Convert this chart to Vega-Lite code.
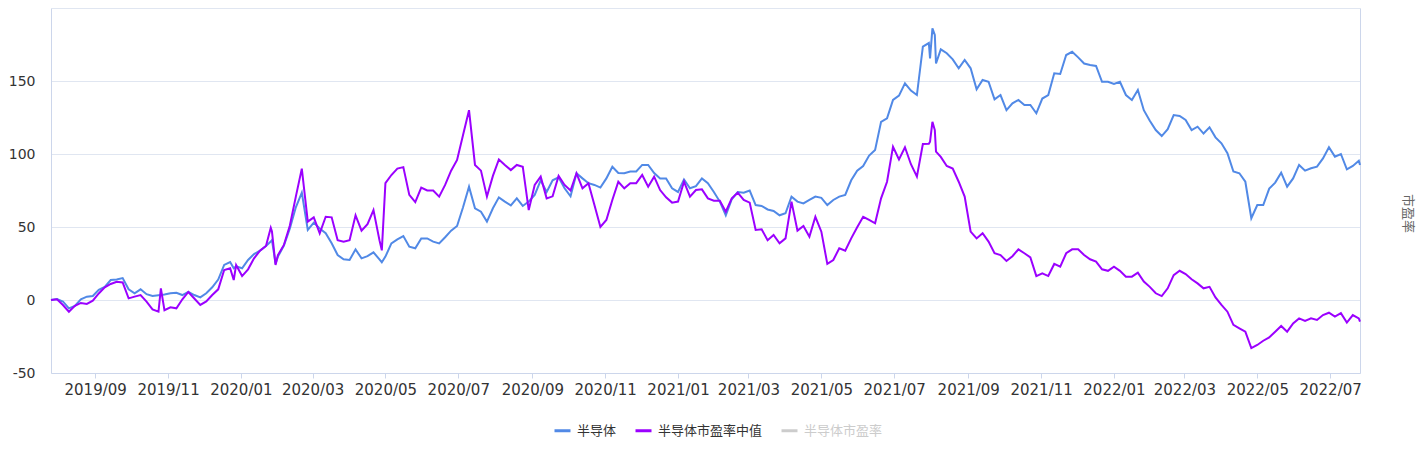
{
 "$schema": "https://vega.github.io/schema/vega-lite/v6.json",
 "width": 1309,
 "height": 365,
 "autosize": {"type": "none"},
 "padding": {"left": 51, "top": 8, "right": 67, "bottom": 77},
 "background": "white",
 "config": {"view": {"stroke": null}, "font": "DejaVu Sans"},
 "data": {"values": [
  {"date":"2019-07-26","半导体":0,"半导体市盈率中值":0},
  {"date":"2019-07-31","半导体":0.7,"半导体市盈率中值":0.5},
  {"date":"2019-08-05","半导体":-1,"半导体市盈率中值":-3.4},
  {"date":"2019-08-10","半导体":-5.7,"半导体市盈率中值":-8},
  {"date":"2019-08-15","半导体":-4,"半导体市盈率中值":-4},
  {"date":"2019-08-20","半导体":0.5,"半导体市盈率中值":-2},
  {"date":"2019-08-25","半导体":2.3,"半导体市盈率中值":-2.7},
  {"date":"2019-08-30","半导体":2.7,"半导体市盈率中值":-0.5},
  {"date":"2019-09-04","半导体":7,"半导体市盈率中值":4.5},
  {"date":"2019-09-09","半导体":9,"半导体市盈率中值":8.7},
  {"date":"2019-09-14","半导体":13.7,"半导体市盈率中值":11},
  {"date":"2019-09-19","半导体":14,"半导体市盈率中值":12.5},
  {"date":"2019-09-24","半导体":15,"半导体市盈率中值":12},
  {"date":"2019-09-29","半导体":7.3,"半导体市盈率中值":1.1},
  {"date":"2019-10-04","半导体":4.6,"半导体市盈率中值":2.3},
  {"date":"2019-10-09","半导体":7.3,"半导体市盈率中值":3.4},
  {"date":"2019-10-14","半导体":4,"半导体市盈率中值":-1.1},
  {"date":"2019-10-19","半导体":2.7,"半导体市盈率中值":-6.4},
  {"date":"2019-10-24","半导体":3.2,"半导体市盈率中值":-8},
  {"date":"2019-10-26","半导体":3.4,"半导体市盈率中值":8},
  {"date":"2019-10-29","半导体":3.7,"半导体市盈率中值":-7},
  {"date":"2019-11-03","半导体":4.6,"半导体市盈率中值":-5},
  {"date":"2019-11-08","半导体":5,"半导体市盈率中值":-5.7},
  {"date":"2019-11-13","半导体":3.4,"半导体市盈率中值":0.5},
  {"date":"2019-11-18","半导体":5.5,"半导体市盈率中值":5.5},
  {"date":"2019-11-23","半导体":3.4,"半导体市盈率中值":1},
  {"date":"2019-11-28","半导体":1.8,"半导体市盈率中值":-3.4},
  {"date":"2019-12-03","半导体":4.6,"半导体市盈率中值":-1},
  {"date":"2019-12-08","半导体":8.7,"半导体市盈率中值":3.4},
  {"date":"2019-12-13","半导体":14,"半导体市盈率中值":7.3},
  {"date":"2019-12-18","半导体":24,"半导体市盈率中值":20.5},
  {"date":"2019-12-23","半导体":26,"半导体市盈率中值":21.7},
  {"date":"2019-12-26","半导体":21.7,"半导体市盈率中值":13.7},
  {"date":"2019-12-28","半导体":23,"半导体市盈率中值":24},
  {"date":"2020-01-02","半导体":21.7,"半导体市盈率中值":16.4},
  {"date":"2020-01-07","半导体":27.4,"半导体市盈率中值":21},
  {"date":"2020-01-12","半导体":31.5,"半导体市盈率中值":28.5},
  {"date":"2020-01-17","半导体":33.8,"半导体市盈率中值":33.8},
  {"date":"2020-01-22","半导体":37,"半导体市盈率中值":37},
  {"date":"2020-01-26","半导体":40,"半导体市盈率中值":49.5},
  {"date":"2020-01-27","半导体":41,"半导体市盈率中值":47},
  {"date":"2020-01-30","半导体":25,"半导体市盈率中值":24},
  {"date":"2020-02-01","半导体":29.7,"半导体市盈率中值":30.8},
  {"date":"2020-02-06","半导体":37.2,"半导体市盈率中值":37.7},
  {"date":"2020-02-11","半导体":49,"半导体市盈率中值":51},
  {"date":"2020-02-16","半导体":63.5,"半导体市盈率中值":70.8},
  {"date":"2020-02-21","半导体":73.5,"半导体市盈率中值":90},
  {"date":"2020-02-26","半导体":48,"半导体市盈率中值":53.7},
  {"date":"2020-03-02","半导体":53,"半导体市盈率中值":56.6},
  {"date":"2020-03-07","半导体":49,"半导体市盈率中值":45.7},
  {"date":"2020-03-12","半导体":45.7,"半导体市盈率中值":57},
  {"date":"2020-03-17","半导体":38.8,"半导体市盈率中值":56.6},
  {"date":"2020-03-22","半导体":30.8,"半导体市盈率中值":41},
  {"date":"2020-03-27","半导体":27.9,"半导体市盈率中值":40},
  {"date":"2020-04-01","半导体":27.4,"半导体市盈率中值":41},
  {"date":"2020-04-06","半导体":34.7,"半导体市盈率中值":58},
  {"date":"2020-04-11","半导体":28.5,"半导体市盈率中值":47.5},
  {"date":"2020-04-16","半导体":30,"半导体市盈率中值":52},
  {"date":"2020-04-21","半导体":32.6,"半导体市盈率中值":61.6},
  {"date":"2020-04-26","半导体":27.9,"半导体市盈率中值":41},
  {"date":"2020-04-28","半导体":25.8,"半导体市盈率中值":34},
  {"date":"2020-05-01","半导体":29.7,"半导体市盈率中值":80},
  {"date":"2020-05-06","半导体":38.8,"半导体市盈率中值":85.6},
  {"date":"2020-05-11","半导体":41.5,"半导体市盈率中值":90},
  {"date":"2020-05-16","半导体":43.8,"半导体市盈率中值":91},
  {"date":"2020-05-21","半导体":36.5,"半导体市盈率中值":72},
  {"date":"2020-05-26","半导体":35.4,"半导体市盈率中值":67},
  {"date":"2020-05-31","半导体":42.2,"半导体市盈率中值":77},
  {"date":"2020-06-05","半导体":42.2,"半导体市盈率中值":75},
  {"date":"2020-06-10","半导体":40,"半导体市盈率中值":75},
  {"date":"2020-06-15","半导体":38.8,"半导体市盈率中值":70.8},
  {"date":"2020-06-20","半导体":43,"半导体市盈率中值":78.8},
  {"date":"2020-06-25","半导体":47.5,"半导体市盈率中值":88.6},
  {"date":"2020-06-30","半导体":50.7,"半导体市盈率中值":95.9},
  {"date":"2020-07-05","半导体":63.5,"半导体市盈率中值":113},
  {"date":"2020-07-10","半导体":77.6,"半导体市盈率中值":130},
  {"date":"2020-07-15","半导体":62.8,"半导体市盈率中值":92.5},
  {"date":"2020-07-20","半导体":60.5,"半导体市盈率中值":88.6},
  {"date":"2020-07-25","半导体":53.7,"半导体市盈率中值":70.8},
  {"date":"2020-07-30","半导体":62.8,"半导体市盈率中值":85},
  {"date":"2020-08-04","半导体":70.3,"半导体市盈率中值":96.3},
  {"date":"2020-08-09","半导体":67.4,"半导体市盈率中值":92.5},
  {"date":"2020-08-14","半导体":64.8,"半导体市盈率中值":89},
  {"date":"2020-08-19","半导体":69.6,"半导体市盈率中值":92.5},
  {"date":"2020-08-24","半导体":64.4,"半导体市盈率中值":91.3},
  {"date":"2020-08-29","半导体":67.4,"半导体市盈率中值":61.6},
  {"date":"2020-09-03","半导体":72,"半导体市盈率中值":78.8},
  {"date":"2020-09-08","半导体":82,"半导体市盈率中值":84.5},
  {"date":"2020-09-13","半导体":74,"半导体市盈率中值":69.6},
  {"date":"2020-09-18","半导体":82,"半导体市盈率中值":71},
  {"date":"2020-09-23","半导体":84,"半导体市盈率中值":85},
  {"date":"2020-09-28","半导体":76.5,"半导体市盈率中值":78.8},
  {"date":"2020-10-03","半导体":71,"半导体市盈率中值":75},
  {"date":"2020-10-08","半导体":86.8,"半导体市盈率中值":86.8},
  {"date":"2020-10-13","半导体":83.3,"半导体市盈率中值":76.5},
  {"date":"2020-10-18","半导体":80,"半导体市盈率中值":80},
  {"date":"2020-10-23","半导体":78.8,"半导体市盈率中值":65},
  {"date":"2020-10-28","半导体":77,"半导体市盈率中值":50},
  {"date":"2020-11-02","半导体":83.3,"半导体市盈率中值":54.8},
  {"date":"2020-11-07","半导体":91.3,"半导体市盈率中值":68.5},
  {"date":"2020-11-12","半导体":87,"半导体市盈率中值":81},
  {"date":"2020-11-17","半导体":86.8,"半导体市盈率中值":76.5},
  {"date":"2020-11-22","半导体":88,"半导体市盈率中值":80},
  {"date":"2020-11-27","半导体":88,"半导体市盈率中值":80},
  {"date":"2020-12-02","半导体":92.5,"半导体市盈率中值":85.6},
  {"date":"2020-12-07","半导体":92.5,"半导体市盈率中值":77.6},
  {"date":"2020-12-12","半导体":87,"半导体市盈率中值":84.5},
  {"date":"2020-12-17","半导体":83.3,"半导体市盈率中值":75.3},
  {"date":"2020-12-22","半导体":83.3,"半导体市盈率中值":70.3},
  {"date":"2020-12-27","半导体":76.5,"半导体市盈率中值":66.7},
  {"date":"2021-01-01","半导体":74,"半导体市盈率中值":67.4},
  {"date":"2021-01-06","半导体":82.6,"半导体市盈率中值":81},
  {"date":"2021-01-11","半导体":76.5,"半导体市盈率中值":70.8},
  {"date":"2021-01-16","半导体":78,"半导体市盈率中值":75.3},
  {"date":"2021-01-21","半导体":83.3,"半导体市盈率中值":75.8},
  {"date":"2021-01-26","半导体":80,"半导体市盈率中值":69.6},
  {"date":"2021-01-31","半导体":74,"半导体市盈率中值":68},
  {"date":"2021-02-05","半导体":67.4,"半导体市盈率中值":68},
  {"date":"2021-02-10","半导体":58,"半导体市盈率中值":60.5},
  {"date":"2021-02-15","半导体":69,"半导体市盈率中值":69.6},
  {"date":"2021-02-20","半导体":74,"半导体市盈率中值":73.5},
  {"date":"2021-02-25","半导体":73.5,"半导体市盈率中值":68.5},
  {"date":"2021-03-02","半导体":75,"半导体市盈率中值":66.7},
  {"date":"2021-03-07","半导体":65,"半导体市盈率中值":48},
  {"date":"2021-03-12","半导体":64.4,"半导体市盈率中值":48.4},
  {"date":"2021-03-17","半导体":62,"半导体市盈率中值":41},
  {"date":"2021-03-22","半导体":61,"半导体市盈率中值":44.5},
  {"date":"2021-03-27","半导体":58,"半导体市盈率中值":38.8},
  {"date":"2021-04-01","半导体":59.4,"半导体市盈率中值":42.2},
  {"date":"2021-04-06","半导体":70.8,"半导体市盈率中值":67.4},
  {"date":"2021-04-11","半导体":67.4,"半导体市盈率中值":47.5},
  {"date":"2021-04-16","半导体":66.2,"半导体市盈率中值":50.7},
  {"date":"2021-04-21","半导体":68.5,"半导体市盈率中值":43.4},
  {"date":"2021-04-26","半导体":70.8,"半导体市盈率中值":57},
  {"date":"2021-05-01","半导体":70,"半导体市盈率中值":46.8},
  {"date":"2021-05-06","半导体":65,"半导体市盈率中值":24.7},
  {"date":"2021-05-11","半导体":68.5,"半导体市盈率中值":27.4},
  {"date":"2021-05-16","半导体":70.8,"半导体市盈率中值":35.4},
  {"date":"2021-05-21","半导体":72,"半导体市盈率中值":33.8},
  {"date":"2021-05-26","半导体":82,"半导体市盈率中值":42.2},
  {"date":"2021-05-31","半导体":88.6,"半导体市盈率中值":49.8},
  {"date":"2021-06-05","半导体":91.8,"半导体市盈率中值":57},
  {"date":"2021-06-10","半导体":98.9,"半导体市盈率中值":54.8},
  {"date":"2021-06-15","半导体":102.7,"半导体市盈率中值":52.5},
  {"date":"2021-06-20","半导体":122,"半导体市盈率中值":69.6},
  {"date":"2021-06-25","半导体":124.4,"半导体市盈率中值":81},
  {"date":"2021-06-30","半导体":137,"半导体市盈率中值":105},
  {"date":"2021-07-05","半导体":140,"半导体市盈率中值":96.3},
  {"date":"2021-07-10","半导体":148.4,"半导体市盈率中值":104.6},
  {"date":"2021-07-15","半导体":143.4,"半导体市盈率中值":93},
  {"date":"2021-07-20","半导体":140.4,"半导体市盈率中值":84.5},
  {"date":"2021-07-25","半导体":173.5,"半导体市盈率中值":106.8},
  {"date":"2021-07-30","半导体":176,"半导体市盈率中值":107},
  {"date":"2021-07-31","半导体":165.5,"半导体市盈率中值":108.4},
  {"date":"2021-08-02","半导体":186,"半导体市盈率中值":122},
  {"date":"2021-08-04","半导体":181.5,"半导体市盈率中值":116.4},
  {"date":"2021-08-05","半导体":162,"半导体市盈率中值":101.6},
  {"date":"2021-08-09","半导体":171.7,"半导体市盈率中值":98},
  {"date":"2021-08-14","半导体":169,"半导体市盈率中值":91.8},
  {"date":"2021-08-19","半导体":164.8,"半导体市盈率中值":90},
  {"date":"2021-08-24","半导体":158.7,"半导体市盈率中值":81},
  {"date":"2021-08-29","半导体":164.4,"半导体市盈率中值":70.8},
  {"date":"2021-09-03","半导体":158.7,"半导体市盈率中值":46.8},
  {"date":"2021-09-08","半导体":144.3,"半导体市盈率中值":42.2},
  {"date":"2021-09-13","半导体":150.7,"半导体市盈率中值":45.7},
  {"date":"2021-09-18","半导体":149.5,"半导体市盈率中值":40},
  {"date":"2021-09-23","半导体":137.4,"半导体市盈率中值":32},
  {"date":"2021-09-28","半导体":140.4,"半导体市盈率中值":30.8},
  {"date":"2021-10-03","半导体":130,"半导体市盈率中值":26.7},
  {"date":"2021-10-08","半导体":134.7,"半导体市盈率中值":30},
  {"date":"2021-10-13","半导体":137,"半导体市盈率中值":34.7},
  {"date":"2021-10-18","半导体":133.6,"半导体市盈率中值":32},
  {"date":"2021-10-23","半导体":133.6,"半导体市盈率中值":29.2},
  {"date":"2021-10-28","半导体":127.9,"半导体市盈率中值":16.4},
  {"date":"2021-11-02","半导体":138,"半导体市盈率中值":18.3},
  {"date":"2021-11-07","半导体":140.4,"半导体市盈率中值":16.4},
  {"date":"2021-11-12","半导体":155.3,"半导体市盈率中值":24.7},
  {"date":"2021-11-17","半导体":154.8,"半导体市盈率中值":22.8},
  {"date":"2021-11-22","半导体":167.8,"半导体市盈率中值":32},
  {"date":"2021-11-27","半导体":170,"半导体市盈率中值":34.7},
  {"date":"2021-12-02","半导体":166.2,"半导体市盈率中值":34.7},
  {"date":"2021-12-07","半导体":162,"半导体市盈率中值":30.8},
  {"date":"2021-12-12","半导体":161,"半导体市盈率中值":27.9},
  {"date":"2021-12-17","半导体":160.3,"半导体市盈率中值":26.3},
  {"date":"2021-12-22","半导体":149.5,"半导体市盈率中值":21},
  {"date":"2021-12-27","半导体":149.5,"半导体市盈率中值":20},
  {"date":"2022-01-01","半导体":148,"半导体市盈率中值":22.8},
  {"date":"2022-01-06","半导体":149.5,"半导体市盈率中值":20},
  {"date":"2022-01-11","半导体":140.4,"半导体市盈率中值":16},
  {"date":"2022-01-16","半导体":137,"半导体市盈率中值":16},
  {"date":"2022-01-21","半导体":143.8,"半导体市盈率中值":18.7},
  {"date":"2022-01-26","半导体":130,"半导体市盈率中值":12.6},
  {"date":"2022-01-31","半导体":122.8,"半导体市盈率中值":9},
  {"date":"2022-02-05","半导体":116.4,"半导体市盈率中值":4.6},
  {"date":"2022-02-10","半导体":112.3,"半导体市盈率中值":2.7},
  {"date":"2022-02-15","半导体":117,"半导体市盈率中值":8},
  {"date":"2022-02-20","半导体":126.7,"半导体市盈率中值":17},
  {"date":"2022-02-25","半导体":126,"半导体市盈率中值":20},
  {"date":"2022-03-02","半导体":123.3,"半导体市盈率中值":17.8},
  {"date":"2022-03-07","半导体":116.4,"半导体市盈率中值":14.2},
  {"date":"2022-03-12","半导体":118.7,"半导体市盈率中值":11.4},
  {"date":"2022-03-17","半导体":114,"半导体市盈率中值":8},
  {"date":"2022-03-22","半导体":118.3,"半导体市盈率中值":9},
  {"date":"2022-03-27","半导体":111.4,"半导体市盈率中值":1.8},
  {"date":"2022-04-01","半导体":107.3,"半导体市盈率中值":-3.4},
  {"date":"2022-04-06","半导体":100.5,"半导体市盈率中值":-8},
  {"date":"2022-04-11","半导体":88,"半导体市盈率中值":-17},
  {"date":"2022-04-16","半导体":86.8,"半导体市盈率中值":-19.4},
  {"date":"2022-04-21","半导体":81,"半导体市盈率中值":-21.7},
  {"date":"2022-04-26","半导体":56,"半导体市盈率中值":-33},
  {"date":"2022-05-01","半导体":65,"半导体市盈率中值":-30.8},
  {"date":"2022-05-06","半导体":65,"半导体市盈率中值":-27.9},
  {"date":"2022-05-11","半导体":76.3,"半导体市盈率中值":-25.6},
  {"date":"2022-05-16","半导体":80.4,"半导体市盈率中值":-21.7},
  {"date":"2022-05-21","半导体":87.2,"半导体市盈率中值":-17.8},
  {"date":"2022-05-26","半导体":77.6,"半导体市盈率中值":-21.7},
  {"date":"2022-05-31","半导体":83.3,"半导体市盈率中值":-16},
  {"date":"2022-06-05","半导体":92.5,"半导体市盈率中值":-12.6},
  {"date":"2022-06-10","半导体":88.6,"半导体市盈率中值":-14.4},
  {"date":"2022-06-15","半导体":90.2,"半导体市盈率中值":-12.6},
  {"date":"2022-06-20","半导体":91.3,"半导体市盈率中值":-13.7},
  {"date":"2022-06-25","半导体":97,"半导体市盈率中值":-10.3},
  {"date":"2022-06-30","半导体":104.6,"半导体市盈率中值":-8.7},
  {"date":"2022-07-05","半导体":98.2,"半导体市盈率中值":-11.4},
  {"date":"2022-07-10","半导体":100,"半导体市盈率中值":-9},
  {"date":"2022-07-15","半导体":89.5,"半导体市盈率中值":-15.5},
  {"date":"2022-07-20","半导体":91.8,"半导体市盈率中值":-10.3},
  {"date":"2022-07-25","半导体":95.4,"半导体市盈率中值":-12.6},
  {"date":"2022-07-26","半导体":92.5,"半导体市盈率中值":-14.8}
 ]},
 "layer": [
  {
   "transform": [{"fold": ["半导体", "半导体市盈率中值"], "as": ["series", "value"]}],
   "mark": {"type": "line", "strokeWidth": 2},
   "encoding": {
    "x": {
     "field": "date", "type": "temporal",
     "scale": {"type": "utc", "domain": ["2019-07-26", "2022-07-26"]},
     "axis": {
      "title": null,
      "values": [
       {"year": 2019, "month": 9, "date": 1, "utc": true},
       {"year": 2019, "month": 11, "date": 1, "utc": true},
       {"year": 2020, "month": 1, "date": 1, "utc": true},
       {"year": 2020, "month": 3, "date": 1, "utc": true},
       {"year": 2020, "month": 5, "date": 1, "utc": true},
       {"year": 2020, "month": 7, "date": 1, "utc": true},
       {"year": 2020, "month": 9, "date": 1, "utc": true},
       {"year": 2020, "month": 11, "date": 1, "utc": true},
       {"year": 2021, "month": 1, "date": 1, "utc": true},
       {"year": 2021, "month": 3, "date": 1, "utc": true},
       {"year": 2021, "month": 5, "date": 1, "utc": true},
       {"year": 2021, "month": 7, "date": 1, "utc": true},
       {"year": 2021, "month": 9, "date": 1, "utc": true},
       {"year": 2021, "month": 11, "date": 1, "utc": true},
       {"year": 2022, "month": 1, "date": 1, "utc": true},
       {"year": 2022, "month": 3, "date": 1, "utc": true},
       {"year": 2022, "month": 5, "date": 1, "utc": true},
       {"year": 2022, "month": 7, "date": 1, "utc": true}
      ],
      "labelExpr": "utcFormat(datum.value, '%Y/%m')",
      "labelOverlap": false,
      "labelFlush": false,
      "grid": false,
      "domainColor": "#ccd6eb",
      "tickColor": "#ccd6eb",
      "tickSize": 5,
      "labelPadding": 4,
      "labelFont": "DejaVu Sans",
      "labelFontSize": 15,
      "labelColor": "#333333"
     }
    },
    "y": {
     "field": "value", "type": "quantitative",
     "scale": {"domain": [-50, 200], "nice": false, "zero": false},
     "axis": {
      "title": null,
      "values": [-50, 0, 50, 100, 150, 200],
      "labelExpr": "datum.value == 200 ? '' : '' + datum.value",
      "ticks": false,
      "domainColor": "#ccd6eb",
      "gridColor": "#e0e6f1",
      "labelPadding": 16,
      "labelFont": "DejaVu Sans",
      "labelFontSize": 14,
      "labelColor": "#333333"
     }
    },
    "color": {
     "field": "series", "type": "nominal",
     "scale": {"domain": ["半导体", "半导体市盈率中值", "半导体市盈率"], "range": ["#5189e6", "#9b00ff", "#cccccc"]},
     "legend": {
      "title": null,
      "orient": "none",
      "legendX": 502,
      "legendY": 413,
      "direction": "horizontal",
      "symbolType": "stroke",
      "symbolSize": 256,
      "symbolStrokeWidth": 3,
      "labelFont": "Noto Sans CJK SC",
      "labelFontSize": 13,
      "labelColor": "#333333",
      "labelOffset": 5,
      "columnPadding": 12,
      "encode": {"labels": {"update": {"fill": {"signal": "datum.value === '半导体市盈率' ? '#cccccc' : '#333333'"}}}}
     }
    }
   }
  },
  {
   "mark": {"type": "line", "opacity": 0},
   "encoding": {
    "x": {"field": "date", "type": "temporal"},
    "y": {
     "field": "半导体", "type": "quantitative",
     "scale": {"domain": [-50, 200], "nice": false, "zero": false},
     "axis": {
      "orient": "right",
      "labels": false,
      "ticks": false,
      "grid": false,
      "domainColor": "#ccd6eb",
      "title": "市盈率",
      "titleAngle": 90,
      "titleFont": "Noto Sans CJK SC",
      "titleFontSize": 13,
      "titleFontWeight": "normal",
      "titleColor": "#666666",
      "titlePadding": 40,
      "titleY": 205
     }
    }
   }
  }
 ],
 "resolve": {"scale": {"y": "independent"}}
}
